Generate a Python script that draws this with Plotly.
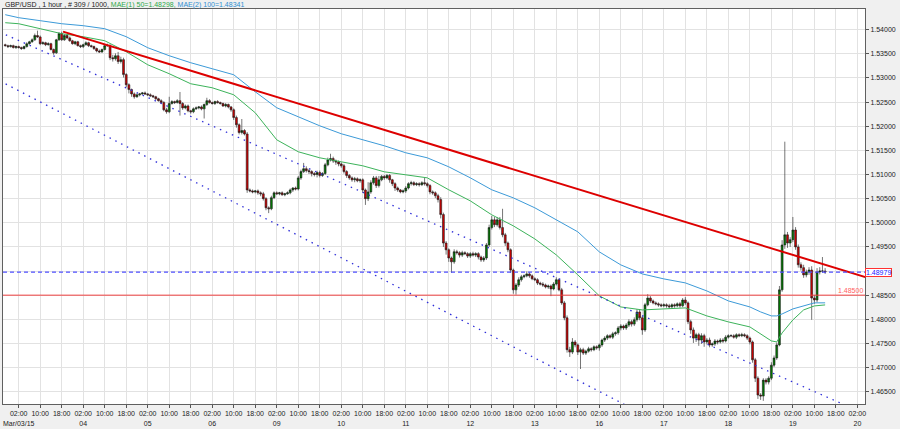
import pandas as pd
import plotly.graph_objects as go

# GBP/USD hourly closes, Mar 2 21:00 -> Mar 19 14:00 (one line per trading day)
closes = [
    1.5367, 1.5365, 1.5367, 1.5363, 1.5365,
    1.5363, 1.5361, 1.5365, 1.5371, 1.5375, 1.5379, 1.5388, 1.5385, 1.5371, 1.5373, 1.5369, 1.5371,
    1.5359, 1.5352, 1.5379, 1.5392, 1.5379, 1.5388, 1.5383, 1.5377, 1.5371, 1.5375, 1.5367, 1.5365,
    1.5369, 1.5373, 1.5367, 1.5365, 1.5361, 1.5356, 1.5354, 1.5359, 1.5367, 1.5367, 1.5342, 1.5340,
    1.5346, 1.5334, 1.5338, 1.5307, 1.5286, 1.5276, 1.5267, 1.5261, 1.5265, 1.5267, 1.5269, 1.5267,
    1.5265, 1.5263, 1.5261, 1.5257, 1.5253, 1.5249, 1.5234, 1.5230, 1.5247, 1.5251, 1.5249, 1.5253,
    1.5247, 1.5238, 1.5242, 1.5232, 1.5230, 1.5236, 1.5238, 1.5240, 1.5236, 1.5245, 1.5253, 1.5249,
    1.5247, 1.5251, 1.5249, 1.5247, 1.5242, 1.5245, 1.5240, 1.5234, 1.5218, 1.5203, 1.5187, 1.5191,
    1.5184, 1.5068, 1.5066, 1.5064, 1.5066, 1.5062, 1.5060, 1.5050, 1.5031, 1.5029, 1.5052, 1.5062,
    1.5060, 1.5062, 1.5058, 1.5060, 1.5062, 1.5068, 1.5072, 1.5070, 1.5093, 1.5106, 1.5112, 1.5108,
    1.5106, 1.5102, 1.5100, 1.5104, 1.5098, 1.5102, 1.5120, 1.5130, 1.5133, 1.5128, 1.5126, 1.5122,
    1.5118, 1.5106, 1.5098, 1.5093, 1.5089, 1.5091, 1.5087, 1.5089, 1.5068, 1.5050, 1.5064, 1.5083,
    1.5093, 1.5077, 1.5089, 1.5096, 1.5093, 1.5098, 1.5089, 1.5081, 1.5072, 1.5068, 1.5064, 1.5066,
    1.5072, 1.5081, 1.5083, 1.5079, 1.5081, 1.5079, 1.5083, 1.5081, 1.5077, 1.5064, 1.5062, 1.5056,
    1.5048, 1.5017, 1.4958, 1.4944, 1.4927, 1.4919, 1.4940, 1.4938, 1.4933, 1.4938, 1.4936, 1.4931,
    1.4936, 1.4933, 1.4936, 1.4929, 1.4923, 1.4927, 1.4954, 1.4990, 1.5006, 1.4996, 1.5006, 1.4990,
    1.4975, 1.4958, 1.4944, 1.4902, 1.4861, 1.4871, 1.4882, 1.4888, 1.4890, 1.4894, 1.4890, 1.4884,
    1.4882, 1.4875, 1.4873, 1.4871, 1.4867, 1.4869, 1.4863, 1.4873, 1.4882, 1.4861, 1.4834, 1.4803,
    1.4737, 1.4732, 1.4753, 1.4747, 1.4732, 1.4737, 1.4730, 1.4734, 1.4739, 1.4737, 1.4743, 1.4741,
    1.4747, 1.4757, 1.4761, 1.4766, 1.4763, 1.4770, 1.4772, 1.4782, 1.4786, 1.4782, 1.4788, 1.4795,
    1.4790, 1.4799, 1.4815, 1.4803, 1.4778, 1.4830, 1.4844, 1.4838, 1.4834, 1.4832, 1.4830, 1.4828,
    1.4830, 1.4828, 1.4826, 1.4830, 1.4828, 1.4832, 1.4828, 1.4840, 1.4834, 1.4795, 1.4778, 1.4761,
    1.4768, 1.4757, 1.4766, 1.4753, 1.4757, 1.4747, 1.4749, 1.4755, 1.4753, 1.4757, 1.4755, 1.4763,
    1.4766, 1.4766, 1.4763, 1.4768, 1.4766, 1.4768, 1.4766, 1.4761, 1.4753, 1.4716, 1.4678, 1.4643,
    1.4641, 1.4674, 1.4670, 1.4678, 1.4705, 1.4720, 1.4747, 1.4861, 1.4954, 1.4975, 1.4958, 1.4965,
    1.4985, 1.4950, 1.4913, 1.4907, 1.4892, 1.4898, 1.4902, 1.4844, 1.4840, 1.4898, 1.4900, 1.4900,
    1.48979,
]
first_open = 1.5369

# wick lengths beyond the candle body, in pips
wick_up_pips = [
    2, 2, 2, 2, 2,
    2, 2, 2, 3, 2, 3, 4, 10, 3, 3, 2, 3, 2, 2, 2, 3, 4, 3, 2, 3, 2, 2, 2, 2,
    2, 3, 2, 2, 2, 2, 3, 2, 3, 4, 3, 6, 5, 8, 6, 4, 3, 3, 2, 3, 3, 2, 2, 3,
    2, 3, 2, 2, 2, 3, 3, 4, 14, 3, 2, 3, 18, 3, 3, 3, 2, 3, 3, 2, 3, 2, 6, 3,
    2, 2, 3, 2, 2, 3, 2, 2, 3, 4, 3, 24, 3, 4, 3, 3, 2, 3, 3, 4, 3, 3, 4, 3,
    3, 2, 3, 2, 3, 3, 2, 3, 4, 4, 12, 5, 4, 3, 3, 4, 4, 3, 4, 5, 10, 4, 3, 3,
    3, 4, 3, 3, 3, 4, 3, 3, 3, 3, 20, 5, 4, 4, 8, 3, 3, 3, 3, 2, 3, 3, 2, 3,
    4, 3, 4, 3, 3, 3, 3, 10, 3, 3, 3, 3, 4, 5, 4, 4, 3, 3, 5, 4, 3, 4, 3, 3,
    3, 4, 3, 3, 3, 4, 4, 6, 8, 6, 6, 6, 39, 4, 3, 3, 3, 4, 5, 4, 3, 5, 4, 3,
    3, 3, 3, 4, 3, 3, 3, 4, 5, 3, 4, 4, 5, 6, 8, 4, 3, 4, 4, 3, 4, 3, 3, 3,
    3, 3, 4, 3, 3, 4, 3, 4, 4, 3, 4, 5, 4, 5, 6, 5, 4, 4, 8, 4, 3, 3, 3, 3,
    3, 3, 4, 3, 3, 3, 4, 4, 6, 3, 4, 5, 4, 4, 5, 4, 4, 5, 3, 4, 3, 4, 4, 4,
    3, 3, 3, 3, 3, 4, 3, 3, 3, 3, 4, 4, 4, 4, 4, 4, 6, 5, 5, 8, 10, 193, 6, 5,
    27, 6, 5, 5, 6, 5, 6, 8, 6, 8, 8, 29, 6,
]
wick_dn_pips = [
    2, 3, 2, 2, 3,
    2, 3, 2, 2, 2, 2, 2, 2, 3, 2, 3, 2, 2, 4, 2, 2, 2, 2, 3, 2, 2, 3, 2, 3,
    3, 2, 3, 2, 3, 3, 2, 2, 2, 2, 5, 6, 4, 5, 4, 6, 5, 8, 6, 4, 2, 3, 2, 2,
    2, 2, 2, 3, 2, 3, 3, 4, 3, 2, 3, 2, 25, 4, 3, 3, 4, 3, 2, 3, 3, 20, 3, 2,
    2, 3, 2, 2, 2, 3, 3, 4, 5, 6, 4, 4, 3, 6, 3, 3, 3, 4, 5, 4, 5, 9, 3, 3,
    2, 3, 2, 3, 2, 3, 4, 3, 3, 4, 3, 4, 5, 6, 4, 6, 4, 3, 3, 3, 3, 4, 6, 5,
    4, 4, 5, 4, 4, 5, 3, 4, 6, 13, 5, 4, 4, 5, 4, 3, 4, 3, 6, 5, 6, 4, 3, 3,
    4, 3, 4, 3, 3, 4, 3, 4, 4, 5, 4, 5, 6, 8, 8, 10, 8, 23, 4, 4, 5, 4, 3, 4,
    4, 3, 4, 5, 4, 4, 4, 4, 4, 5, 4, 4, 5, 6, 5, 6, 8, 10, 4, 4, 3, 3, 4, 3,
    3, 4, 3, 4, 3, 4, 15, 3, 3, 3, 4, 5, 6, 10, 4, 5, 6, 35, 4, 4, 3, 4, 3, 4,
    6, 4, 4, 4, 3, 4, 4, 4, 5, 4, 4, 4, 5, 4, 4, 5, 10, 4, 3, 4, 3, 3, 4, 3,
    3, 4, 4, 3, 4, 3, 4, 3, 4, 5, 8, 10, 8, 12, 8, 10, 5, 5, 4, 4, 5, 3, 4, 3,
    3, 3, 3, 4, 3, 3, 3, 4, 5, 6, 8, 8, 8, 10, 5, 5, 4, 4, 4, 3, 4, 8, 10, 8,
    5, 6, 6, 6, 6, 5, 6, 45, 8, 5, 5, 4, 4,
]

# moving averages read at regular points
ma_times = [
    "2015-03-02 21:00", "2015-03-03 02:00", "2015-03-03 10:00", "2015-03-03 18:00",
    "2015-03-04 02:00", "2015-03-04 10:00", "2015-03-04 18:00", "2015-03-05 02:00",
    "2015-03-05 10:00", "2015-03-05 18:00", "2015-03-06 02:00", "2015-03-06 10:00",
    "2015-03-06 18:00", "2015-03-09 02:00", "2015-03-09 10:00", "2015-03-09 18:00",
    "2015-03-10 02:00", "2015-03-10 10:00", "2015-03-10 18:00", "2015-03-11 02:00",
    "2015-03-11 10:00", "2015-03-11 18:00", "2015-03-12 02:00", "2015-03-12 10:00",
    "2015-03-12 18:00", "2015-03-13 02:00", "2015-03-13 10:00", "2015-03-13 18:00",
    "2015-03-16 02:00", "2015-03-16 10:00", "2015-03-16 18:00", "2015-03-17 02:00",
    "2015-03-17 10:00", "2015-03-17 18:00", "2015-03-18 02:00", "2015-03-18 10:00",
    "2015-03-18 14:00", "2015-03-18 18:00", "2015-03-18 20:00", "2015-03-18 22:00",
    "2015-03-19 02:00", "2015-03-19 06:00", "2015-03-19 10:00", "2015-03-19 14:00",
]
ma50 = [
    1.54145, 1.54124, 1.54021, 1.53917, 1.53855, 1.53772, 1.53544, 1.53274, 1.53088, 1.52880, 1.52797,
    1.52652, 1.52279, 1.51719, 1.51471, 1.51346, 1.51263, 1.51180, 1.51056, 1.50993, 1.50931, 1.50683,
    1.50454, 1.50164, 1.49936, 1.49666, 1.49334, 1.48920, 1.48485, 1.48256, 1.48194, 1.48215, 1.48236,
    1.48070, 1.47946, 1.47842, 1.47697, 1.47552, 1.47531, 1.47718, 1.47987, 1.48194, 1.48277, 1.48298,
]
ma100 = [
    1.54311, 1.54249, 1.54187, 1.54124, 1.54083, 1.54021, 1.53855, 1.53627, 1.53461, 1.53316, 1.53191,
    1.53067, 1.52714, 1.52383, 1.52196, 1.52009, 1.51844, 1.51719, 1.51595, 1.51450, 1.51346, 1.51159,
    1.50931, 1.50683, 1.50516, 1.50310, 1.50061, 1.49812, 1.49397, 1.49127, 1.48940, 1.48837, 1.48754,
    1.48588, 1.48381, 1.48256, 1.48153, 1.48070, 1.48070, 1.48111, 1.48215, 1.48277, 1.48340, 1.48341,
]

# drawn objects: trend line, channel lines, levels
trend_t = ["2015-03-03 18:30", "2015-03-20 10:00"]
trend_p = [1.53960, 1.48789]
chan_up_t = ["2015-03-02 19:00", "2015-03-20 10:00"]
chan_up_p = [1.53948, 1.45914]
chan_lo_t = ["2015-03-02 19:00", "2015-03-16 17:00"]
chan_lo_p = [1.52938, 1.46073]
last_price = 1.48979
level = 1.48500
price_ticks = [1.540, 1.535, 1.530, 1.525, 1.520, 1.515, 1.510, 1.505,
               1.500, 1.495, 1.490, 1.485, 1.480, 1.475, 1.470, 1.465]

bar_times = pd.date_range("2015-03-02 21:00", "2015-03-19 14:00", freq="h")
bar_times = bar_times[bar_times.dayofweek < 5]
assert len(bar_times) == len(closes) == len(wick_up_pips) == len(wick_dn_pips)

opens = [first_open] + closes[:-1]
highs = [max(o, c) + u / 10000 for o, c, u in zip(opens, closes, wick_up_pips)]
lows = [min(o, c) - d / 10000 for o, c, d in zip(opens, closes, wick_dn_pips)]

tick_times = pd.date_range("2015-03-03 02:00", "2015-03-20 02:00", freq="8h")
tick_times = tick_times[tick_times.dayofweek < 5]
tick_text = []
for t in tick_times:
    s = t.strftime("%H:%M")
    if t.hour == 2:
        s += "<br>" + ("Mar/03/15" if t.day == 3 else t.strftime("%d"))
    tick_text.append(s)

# the 1.49000 label is hidden behind the current-price box
price_text = ["" if abs(p - 1.49) < 1e-9 else f"{p:.5f}" for p in price_ticks]

font = "Liberation Sans, Arial, sans-serif"

fig = go.Figure()

fig.add_trace(go.Scatter(x=ma_times, y=ma100, mode="lines",
                         line=dict(color="#3c9ad8", width=1), hoverinfo="skip"))
fig.add_trace(go.Scatter(x=ma_times, y=ma50, mode="lines",
                         line=dict(color="#3cb35a", width=1), hoverinfo="skip"))
fig.add_trace(go.Scatter(x=chan_up_t, y=chan_up_p, mode="lines",
                         line=dict(color="#2f2fd8", width=1.3, dash="1.5px,5px"), hoverinfo="skip"))
fig.add_trace(go.Scatter(x=chan_lo_t, y=chan_lo_p, mode="lines",
                         line=dict(color="#2f2fd8", width=1.3, dash="1.5px,5px"), hoverinfo="skip"))

fig.add_trace(go.Candlestick(
    x=bar_times, open=opens, high=highs, low=lows, close=closes,
    increasing=dict(fillcolor="#007a00", line=dict(color="#1a1a1a", width=0.6)),
    decreasing=dict(fillcolor="#d00000", line=dict(color="#1a1a1a", width=0.6)),
    whiskerwidth=0,
))

fig.add_trace(go.Scatter(x=trend_t, y=trend_p, mode="lines",
                         line=dict(color="#dd0000", width=2), hoverinfo="skip"))

fig.add_shape(type="line", xref="paper", x0=0, x1=1, y0=last_price, y1=last_price,
              line=dict(color="#5050ff", width=1.3, dash="4px,3px"))
fig.add_shape(type="line", xref="paper", x0=0, x1=1, y0=level, y1=level,
              line=dict(color="#f04040", width=1))

fig.add_annotation(xref="paper", x=1, xanchor="left", xshift=0, y=last_price, yref="y",
                   text=f"{last_price:.5f}", showarrow=False,
                   font=dict(family=font, size=7, color="#2020ff"),
                   bgcolor="white", bordercolor="#ff3030", borderwidth=1, borderpad=0)
fig.add_annotation(xref="paper", x=1, xanchor="right", y=level, yref="y", yanchor="bottom",
                   yshift=-1, text=f"{level:.5f}", showarrow=False,
                   font=dict(family=font, size=7, color="#ff6060"))

fig.add_annotation(
    xref="paper", yref="paper", x=0, y=1, xanchor="left", yanchor="bottom", yshift=-2,
    text=("GBP/USD , 1 hour , # 309 / 1000, "
          "<span style='color:#2ea84a'>MAE(1) 50=1.48298, </span>"
          "<span style='color:#2f8fd0'>MAE(2) 100=1.48341</span>"),
    showarrow=False, font=dict(family=font, size=7, color="#222222"),
)

fig.update_layout(
    width=900, height=429,
    margin=dict(l=3, r=35, t=9, b=25),
    paper_bgcolor="#f0f0f0",
    plot_bgcolor="white",
    showlegend=False,
    boxgap=0,
    font=dict(family=font, size=7, color="#222222"),
    xaxis=dict(
        type="date",
        range=["2015-03-02 20:10", "2015-03-20 04:50"],
        rangebreaks=[dict(bounds=["sat", "mon"])],
        rangeslider=dict(visible=False),
        tickvals=tick_times, ticktext=tick_text, tickangle=0,
        ticks="outside", ticklen=3, tickcolor="#555555",
        showgrid=True, gridcolor="#e2e2e2", gridwidth=1,
        showline=True, linecolor="#606060", mirror=True,
        automargin=False, zeroline=False,
    ),
    yaxis=dict(
        side="right",
        range=[1.46245, 1.54429],
        tickvals=price_ticks, ticktext=price_text,
        ticks="outside", ticklen=3, tickcolor="#555555",
        showgrid=True, gridcolor="#e2e2e2", gridwidth=1,
        showline=True, linecolor="#606060", mirror=True,
        automargin=False, zeroline=False,
    ),
)

fig.write_html("out.html", config={"displayModeBar": False},
               post_script="document.body.style.margin='0';")
